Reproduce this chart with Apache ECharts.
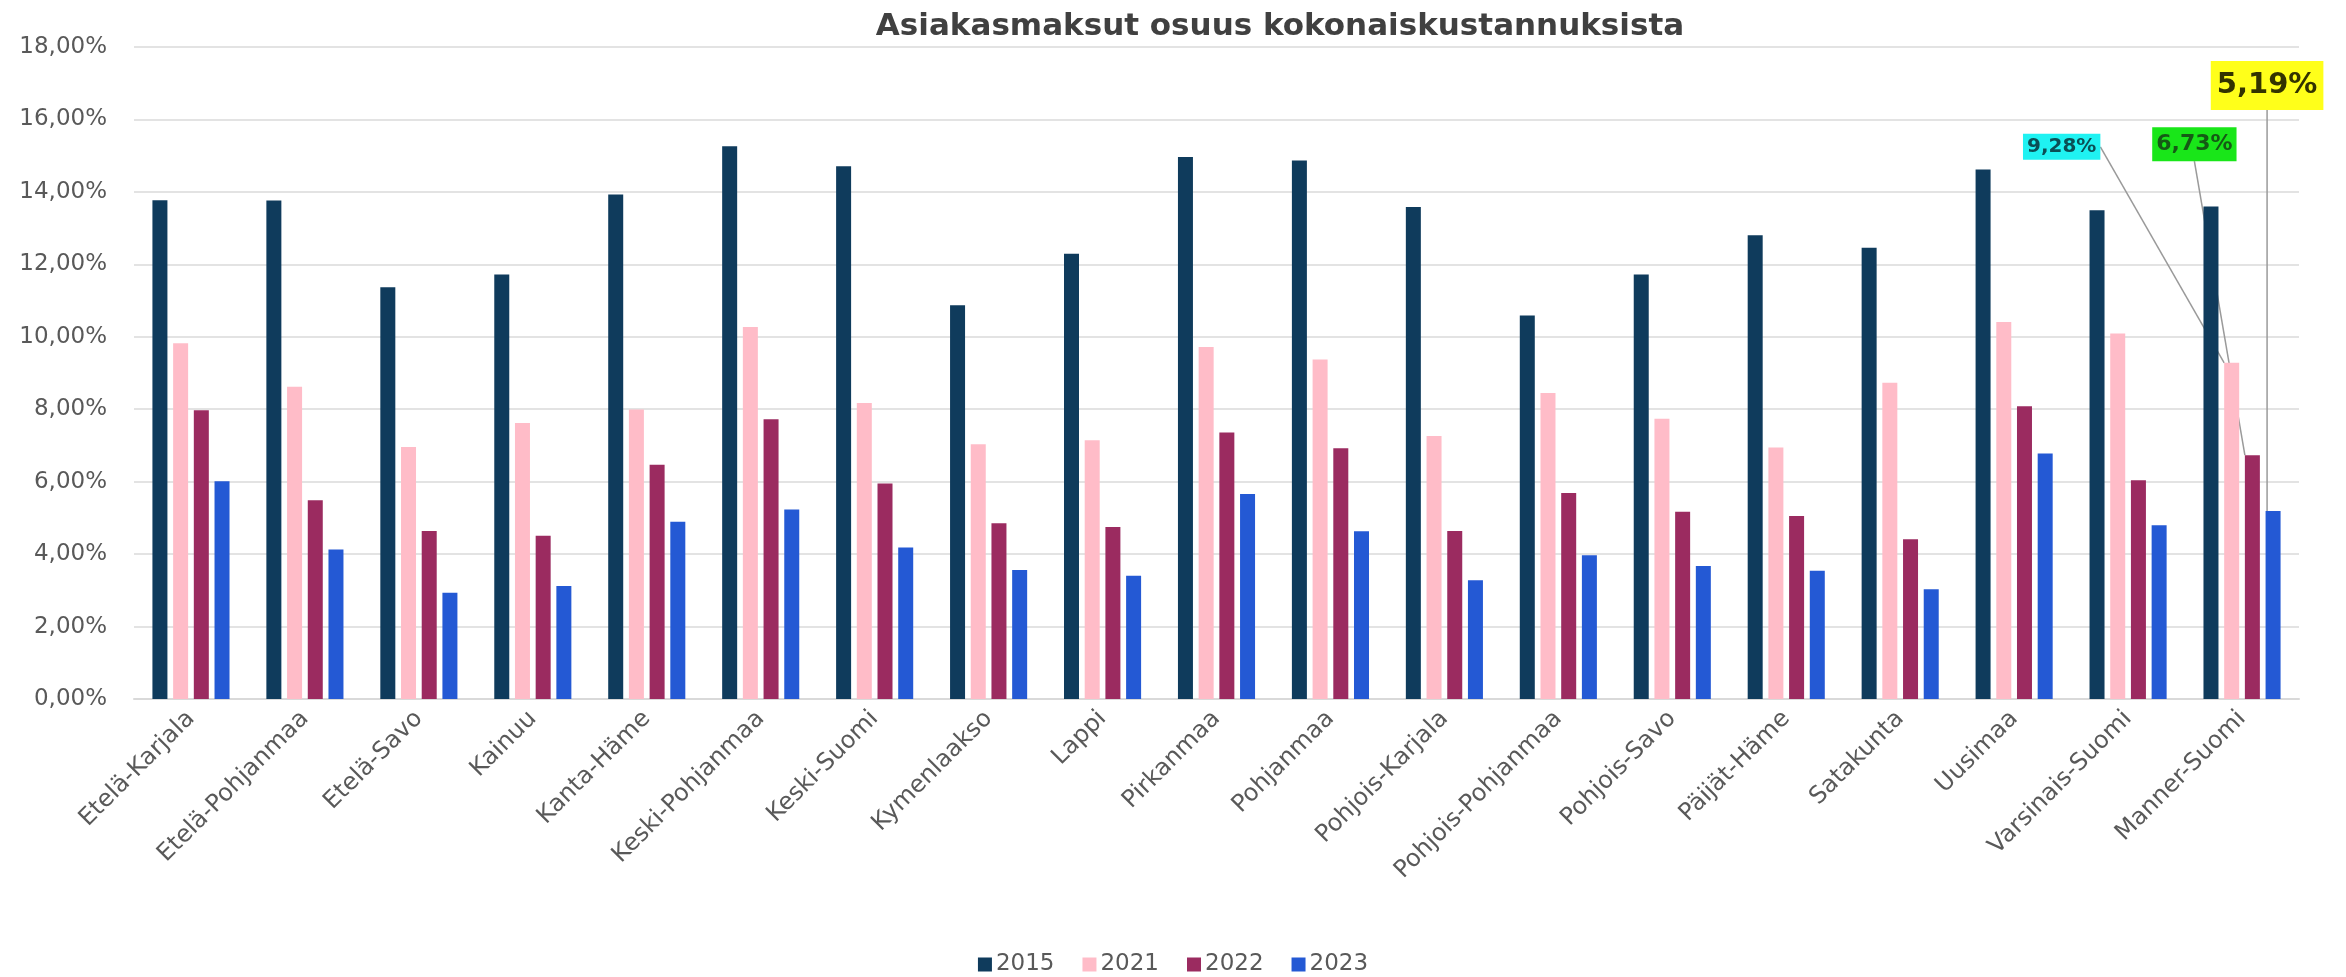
<!DOCTYPE html>
<html>
<head>
<meta charset="utf-8">
<script src="https://cdn.jsdelivr.net/npm/echarts@6/dist/echarts.min.js"></script>
<style>
html,body{margin:0;padding:0;background:#fff;}
#chart{width:2346px;height:977px;}
</style>
</head>
<body>
<div id="chart"></div>
<script>
const titleText = 'Asiakasmaksut osuus kokonaiskustannuksista';
const categories = ['Etelä-Karjala','Etelä-Pohjanmaa','Etelä-Savo','Kainuu','Kanta-Häme','Keski-Pohjanmaa','Keski-Suomi','Kymenlaakso','Lappi','Pirkanmaa','Pohjanmaa','Pohjois-Karjala','Pohjois-Pohjanmaa','Pohjois-Savo','Päijät-Häme','Satakunta','Uusimaa','Varsinais-Suomi','Manner-Suomi'];
const years = ['2015','2021','2022','2023'];
const v2015 = [13.77,13.76,11.37,11.72,13.93,15.26,14.71,10.87,12.29,14.96,14.87,13.58,10.59,11.72,12.80,12.46,14.62,13.49,13.60];
const v2021 = [9.82,8.62,6.96,7.62,7.99,10.27,8.17,7.03,7.14,9.72,9.37,7.26,8.45,7.74,6.94,8.73,10.41,10.09,9.28];
const v2022 = [7.97,5.49,4.64,4.51,6.47,7.72,5.95,4.85,4.75,7.36,6.92,4.64,5.69,5.17,5.05,4.41,8.08,6.04,6.73];
const v2023 = [6.01,4.13,2.93,3.12,4.89,5.23,4.18,3.56,3.40,5.66,4.63,3.28,3.97,3.67,3.54,3.03,6.78,4.80,5.19];
const yTicks = [0,2,4,6,8,10,12,14,16,18];

const colors = ['#0f3b5c','#ffbcc8','#9b2b60','#2459d4'];
const fmt = v => v.toFixed(2).replace('.', ',') + '%';

// highlighted annotations for the last category (Manner-Suomi)
const highlight = {
  '2021': {bg:'#1ff2f2', color:'#0b4f56', size:20, pad:[3,4], dx:-170, dy:-203},
  '2022': {bg:'#19e619', color:'#155a15', size:22, pad:[6,4], dx:-58, dy:-294},
  '2023': {bg:'#ffff1a', color:'#333300', size:29, pad:[10,6], dx:-6, dy:-401}
};
const lastIdx = categories.length - 1;

function buildData(vals, year){
  return vals.map((v,i) => {
    const h = highlight[year];
    if (i === lastIdx && h) {
      return {
        value: v,
        label: {
          show: true, position: 'top', distance: 0,
          formatter: () => fmt(v),
          backgroundColor: h.bg, color: h.color,
          fontFamily: 'DejaVu Sans', fontWeight: 'bold', fontSize: h.size,
          padding: h.pad
        },
        labelLine: {show: true, lineStyle: {color: '#9a9a9a', width: 1.5}}
      };
    }
    return v;
  });
}
const seriesVals = [v2015, v2021, v2022, v2023];

const chart = echarts.init(document.getElementById('chart'));
chart.setOption({
  animation: false,
  backgroundColor: '#ffffff',
  title: {
    text: titleText,
    left: 1275, top: 6, textAlign: 'center',
    textStyle: {fontFamily: 'DejaVu Sans', fontWeight: 'bold', fontSize: 31, color: '#404040'}
  },
  legend: {
    data: years,
    left: 'center', bottom: -4,
    itemWidth: 14, itemHeight: 14, itemGap: 28,
    icon: 'rect',
    textStyle: {fontFamily: 'DejaVu Sans', fontSize: 23, color: '#595959', padding: [0,0,0,-1]}
  },
  grid: {left: 134, right: 47, top: 47, bottom: 278, containLabel: false},
  xAxis: {
    type: 'category', data: categories,
    axisTick: {show: false},
    axisLine: {lineStyle: {color: '#d9d9d9', width: 2}},
    axisLabel: {rotate: 45, margin: 16, interval: 0, fontFamily: 'DejaVu Sans', fontSize: 24, color: '#595959'}
  },
  yAxis: {
    type: 'value', min: 0, max: 18, interval: 2,
    axisLine: {show: false}, axisTick: {show: false},
    splitLine: {lineStyle: {color: '#e3e3e3', width: 2}},
    axisLabel: {margin: 27, fontFamily: 'DejaVu Sans', fontSize: 23, color: '#595959',
      formatter: v => yTicks.includes(v) ? v.toFixed(2).replace('.', ',') + '%' : ''}
  },
  series: years.map((y, k) => ({
    name: y, type: 'bar',
    data: buildData(seriesVals[k], y),
    barWidth: 15, barGap: '38%',
    itemStyle: {color: colors[k]},
    label: {show: false},
    labelLayout: highlight[y] ? (p => p.dataIndex === lastIdx ? {dx: highlight[y].dx, dy: highlight[y].dy} : {}) : undefined
  }))
});
</script>
</body>
</html>
